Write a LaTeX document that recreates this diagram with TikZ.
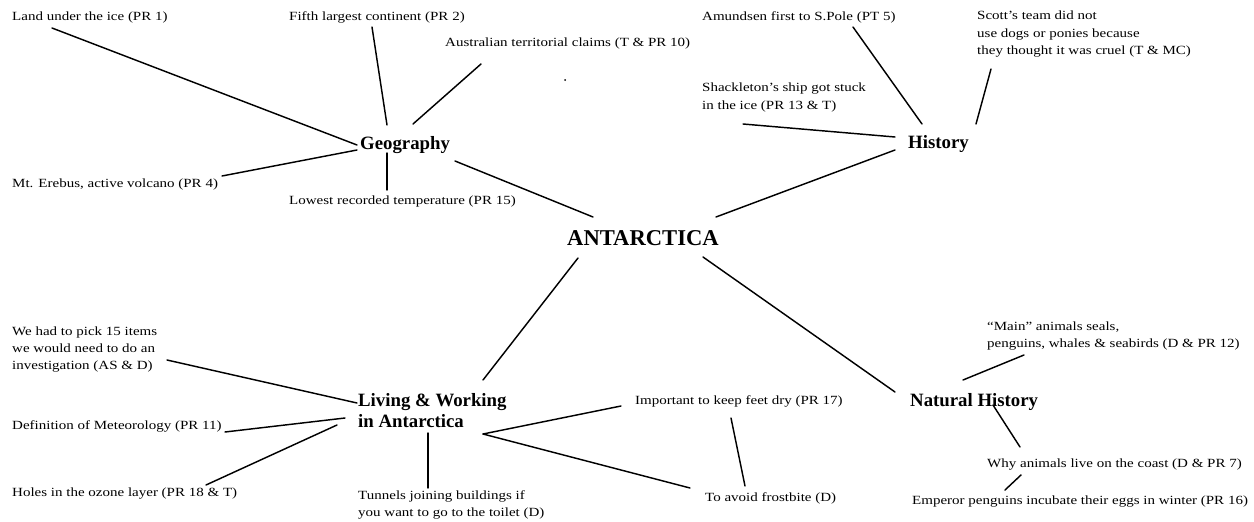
\documentclass[tikz,border=0pt]{standalone}
\usepackage{fontspec}
\setmainfont{Liberation Serif}
\newfontfamily\notefont[FakeStretch=1.2]{Liberation Serif}
\tikzset{
  note/.style={font=\notefont\fontsize{12.5}{17.5}\selectfont, inner sep=0pt},
  notes/.style={note, align=left, anchor=north west},
  topic/.style={font=\bfseries\fontsize{18.8}{21}\selectfont, inner sep=0pt},
  hub/.style={font=\bfseries\fontsize{22.6}{26}\selectfont, inner sep=0pt},
  link/.style={line width=1.45pt, line cap=round}
}
\begin{document}
\begin{tikzpicture}[x=1pt, y=-1pt]
\useasboundingbox (0,0) rectangle (1254,522);

% centre
\node[hub, anchor=base west] (ant) at (567,245) {ANTARCTICA};

% main topics
\node[topic, anchor=base west] (geo) at (360,149) {Geography};
\node[topic, anchor=base west] (hist) at (908,148) {History};
\node[topic, align=left, anchor=north west] (liv) at (358,393) {Living \& Working\\in Antarctica};
\node[topic, anchor=base west] (nat) at (910,406) {Natural History};

% geography notes
\node[note, anchor=base west] (land) at (12,20) {Land under the ice (PR 1)};
\node[note, anchor=base west] (fifth) at (289,20) {Fifth largest continent (PR 2)};
\node[note, anchor=base west] (aus) at (445,46) {Australian territorial claims (T \& PR 10)};
\node[note, anchor=base west] (ereb) at (12,187) {Mt. Erebus, active volcano (PR 4)};
\node[note, anchor=base west] (low) at (289,204) {Lowest recorded temperature (PR 15)};

% history notes
\node[note, anchor=base west] (amu) at (702,20) {Amundsen first to S.Pole (PT 5)};
\node[notes] (scott) at (977,11) {Scott’s team did not\\use dogs or ponies because\\they thought it was cruel (T \& MC)};
\node[notes] (shack) at (702,83) {Shackleton’s ship got stuck\\in the ice (PR 13 \& T)};

% living & working notes
\node[notes, font=\notefont\fontsize{12.5}{17}\selectfont] (pick) at (12,327) {We had to pick 15 items\\we would need to do an\\investigation (AS \& D)};
\node[note, anchor=base west] (met) at (12,429) {Definition of Meteorology (PR 11)};
\node[note, anchor=base west] (ozone) at (12,496) {Holes in the ozone layer (PR 18 \& T)};
\node[notes, font=\notefont\fontsize{12.5}{17}\selectfont] (tun) at (358,490) {Tunnels joining buildings if\\you want to go to the toilet (D)};
\node[note, anchor=base west] (feet) at (635,404) {Important to keep feet dry (PR 17)};
\node[note, anchor=base west] (frost) at (705,501) {To avoid frostbite (D)};

% natural history notes
\node[notes, font=\notefont\fontsize{12.5}{17}\selectfont] (mainan) at (987,322) {“Main” animals seals,\\penguins, whales \& seabirds (D \& PR 12)};
\node[note, anchor=base west] (coast) at (987,467) {Why animals live on the coast (D \& PR 7)};
\node[note, anchor=base west] (emp) at (912,504) {Emperor penguins incubate their eggs in winter (PR 16)};

% small stray mark
\fill (565,80) circle (1pt);

% connectors: centre to topics
\draw[link] ([shift={(95,12)}]geo.base west) -- ([shift={(26,-28)}]ant.base west);
\draw[link] ([shift={(-13,2)}]hist.base west) -- ([shift={(149,-28)}]ant.base west);
\draw[link] ([shift={(11,13)}]ant.base west) -- ([shift={(125,-13)}]liv.north west);
\draw[link] ([shift={(136,12)}]ant.base west) -- ([shift={(-15,-14)}]nat.base west);

% geography
\draw[link] ([shift={(40,8)}]land.base west) -- ([shift={(-3,-4)}]geo.base west);
\draw[link] ([shift={(83,7)}]fifth.base west) -- ([shift={(27,-24)}]geo.base west);
\draw[link] ([shift={(36,18)}]aus.base west) -- ([shift={(53,-25)}]geo.base west);
\draw[link] ([shift={(210,-11)}]ereb.base west) -- ([shift={(-3,1)}]geo.base west);
\draw[link] ([shift={(98,-14)}]low.base west) -- ([shift={(27,4)}]geo.base west);

% history
\draw[link] ([shift={(151,7)}]amu.base west) -- ([shift={(14,-24)}]hist.base west);
\draw[link] ([shift={(14,58)}]scott.north west) -- ([shift={(68,-24)}]hist.base west);
\draw[link] ([shift={(41,41)}]shack.north west) -- ([shift={(-13,-11)}]hist.base west);

% living & working
\draw[link] ([shift={(155,33)}]pick.north west) -- ([shift={(-1,10)}]liv.north west);
\draw[link] ([shift={(213,3)}]met.base west) -- ([shift={(-13,25)}]liv.north west);
\draw[link] ([shift={(194,-11)}]ozone.base west) -- ([shift={(-21,32)}]liv.north west);
\draw[link] ([shift={(70,-2)}]tun.north west) -- ([shift={(70,40)}]liv.north west);
\draw[link] ([shift={(-14,2)}]feet.base west) -- ([shift={(125,41)}]liv.north west);
\draw[link] ([shift={(-15,-13)}]frost.base west) -- ([shift={(125,41)}]liv.north west);
\draw[link] ([shift={(96,14)}]feet.base west) -- ([shift={(40,-15)}]frost.base west);

% natural history
\draw[link] ([shift={(37,33)}]mainan.north west) -- ([shift={(53,-26)}]nat.base west);
\draw[link] ([shift={(83,-1)}]nat.base west) -- ([shift={(33,-20)}]coast.base west);
\draw[link] ([shift={(34,8)}]coast.base west) -- ([shift={(93,-14)}]emp.base west);
\end{tikzpicture}
\end{document}
